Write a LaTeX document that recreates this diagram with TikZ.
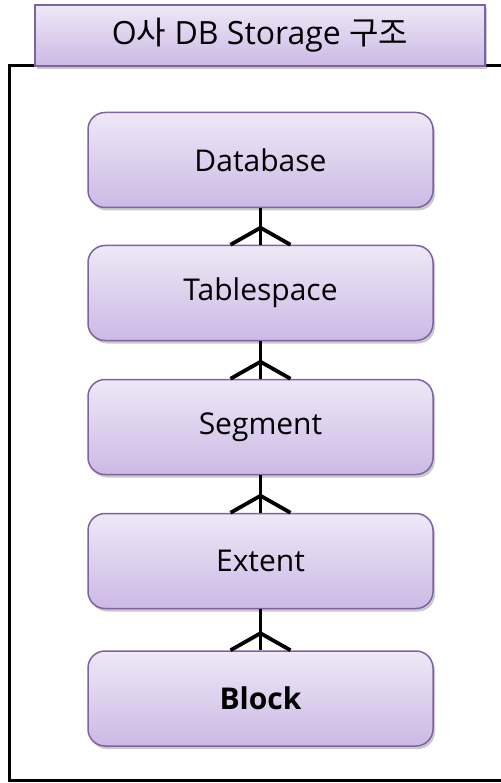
\documentclass[tikz,border=0pt]{standalone}
\usepackage{fontspec}
\setmainfont{Open Sans}
\newfontfamily\krfont{Noto Sans CJK KR}
\usetikzlibrary{shadows,calc}
\definecolor{boxtop}{HTML}{EEE8F7}
\definecolor{boxbot}{HTML}{CCB9E5}
\definecolor{boxline}{HTML}{7F63A1}
\tikzset{
  x=1pt,y=1pt,
  entity/.style={rectangle, rounded corners=17pt, draw=boxline, line width=1.5pt,
    top color=boxtop, bottom color=boxbot, minimum width=345pt, minimum height=95pt,
    font=\fontsize{30}{36}\selectfont, inner sep=0pt,
    drop shadow={shadow xshift=2pt, shadow yshift=-3pt, opacity=0.35, fill=black!60}},
  titlebox/.style={rectangle, draw=boxline, line width=1.5pt,
    top color=boxtop, bottom color=boxbot, minimum width=450pt, minimum height=61pt,
    font=\fontsize{32}{38}\selectfont, inner sep=0pt,
    drop shadow={shadow xshift=2pt, shadow yshift=-3pt, opacity=0.35, fill=black!60}},
  link/.style={line width=3.8pt, draw=black},
}
\begin{document}
\begin{tikzpicture}
\useasboundingbox (0,0) rectangle (500,-783);
\coordinate (ftr) at (512,-65.5);
\coordinate (fbr) at (512,-780.5);
\draw[line width=3.5pt] (ftr) -- (9.5,-65.5) -- (9.5,-780.5) -- (fbr);
\node[titlebox] (title) at (260,-35.5) {O{\krfont 사} DB Storage {\krfont 구조}};
\node[entity] (db) at (260.5,-160) {Database};
\node[entity] (ts) at (260.5,-293) {Tablespace};
\node[entity] (seg) at (260.5,-427) {Segment};
\node[entity] (ext) at (260.5,-561) {Extent};
\node[entity] (blk) at (260.5,-698.5) {\bfseries Block};
\foreach \a/\b in {db/ts, ts/seg, seg/ext, ext/blk}{
  \draw[link] (\a.south) -- (\b.north);
  \draw[link] ($(\b.north)+(-30,0)$) -- ($(\b.north)+(0,17)$) -- ($(\b.north)+(30,0)$);
}
\end{tikzpicture}
\end{document}
